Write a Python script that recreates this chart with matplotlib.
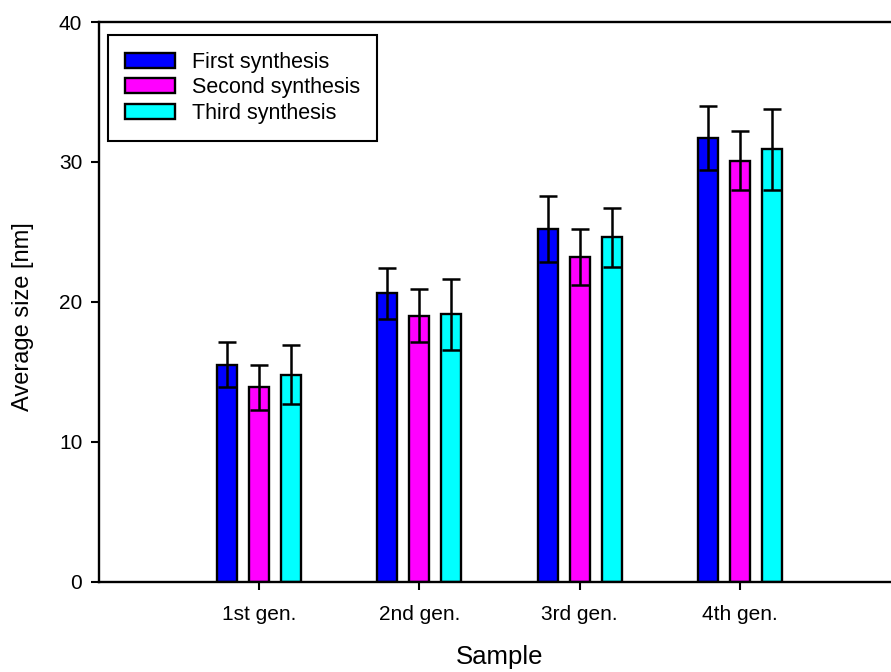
import numpy as np
import matplotlib
matplotlib.use('Agg')
import matplotlib.pyplot as plt

plt.rcParams['font.family'] = ['Liberation Sans', 'DejaVu Sans']

samples = ['1st gen.', '2nd gen.', '3rd gen.', '4th gen.']
series = ['First synthesis', 'Second synthesis', 'Third synthesis']
colors = ['#0000ff', '#ff00ff', '#00ffff']

first_size = [15.5, 20.6, 25.2, 31.7]
first_err = [1.6, 1.8, 2.35, 2.3]
second_size = [13.9, 19.0, 23.2, 30.1]
second_err = [1.6, 1.9, 2.0, 2.1]
third_size = [14.8, 19.1, 24.6, 30.9]
third_err = [2.1, 2.55, 2.1, 2.9]

sizes = [first_size, second_size, third_size]
errs = [first_err, second_err, third_err]

fig = plt.figure(figsize=(8.91, 6.72), dpi=100)
ax = fig.add_axes([99/891, 1 - 581.7/672, 801/891, 559.7/672])

x = np.arange(1, len(samples) + 1)
width = 0.125
offsets = [-0.2, 0.0, 0.2]

for k in range(3):
    ax.bar(x + offsets[k], sizes[k], width, color=colors[k], edgecolor='black',
           linewidth=1.7, label=series[k], zorder=2)
    ax.errorbar(x + offsets[k], sizes[k], yerr=errs[k], fmt='none', ecolor='black',
                elinewidth=1.8, capsize=6.2, capthick=1.8, zorder=3)

ax.set_xlim(0, 5)
ax.set_ylim(0, 40)
ax.set_xticks(x)
ax.set_xticklabels(samples)
ax.set_yticks([0, 10, 20, 30, 40])
ax.tick_params(direction='out', length=6, width=1.5, labelsize=15, pad=6)
ax.tick_params(axis='x', pad=11)
for s in ['left', 'bottom', 'top']:
    ax.spines[s].set_linewidth(1.7)
ax.spines['right'].set_visible(False)

ax.set_xlabel('Sample', fontsize=18.5, labelpad=15)
ax.set_ylabel('Average size [nm]', fontsize=17)
ax.yaxis.set_label_coords(-0.081, 0.474)

leg = ax.legend(loc='upper left', bbox_to_anchor=(0.0112, 0.977), borderaxespad=0,
                fontsize=15.5, frameon=True, fancybox=False, edgecolor='black',
                framealpha=1, handlelength=2.3, handleheight=0.7, handletextpad=0.8,
                labelspacing=0.2, borderpad=0.8)
leg.get_frame().set_linewidth(1.5)

fig.savefig('out.png', dpi=100)
